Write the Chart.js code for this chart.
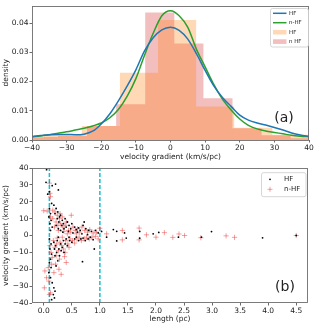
<!DOCTYPE html>
<html><head><meta charset="utf-8">
<script src="https://cdn.jsdelivr.net/npm/chart.js@4.4.0/dist/chart.umd.min.js"></script>
<style>
html,body{margin:0;padding:0;background:#fff;}
#wrap{position:relative;width:315px;height:331px;overflow:hidden;}
#c1box{position:absolute;left:0;top:0;width:315px;height:165px;}
#c2box{position:absolute;left:0;top:160px;width:315px;height:171px;}
</style></head><body>
<div id="wrap"><div id="c1box"><canvas id="c1"></canvas></div><div id="c2box"><canvas id="c2"></canvas></div></div>
<script>
// ---------- panel (a) data ----------
const topXTicks = [-40,-30,-20,-10,0,10,20,30,40];
const topYTicks = [0,0.01,0.02,0.03,0.04];
const hfEdges  = [-47.6,-36.6,-25.6,-14.6,-3.6,7.4,18.4,29.4,40.4];
const hfHeights = [0.0008,0.0018,0.0048,0.0230,0.0410,0.0115,0.0042,0.0018];
const nhfEdges = [-40.9,-32.5,-24.1,-15.7,-7.3,1.1,9.5,17.9,26.3,34.7,43.1];
const nhfHeights = [0.0010,0.0014,0.0048,0.0122,0.0436,0.0330,0.0143,0.0040,0.0016,0.0006];
const kdeX   = [-40,-37.5,-35,-32.5,-30,-27.5,-25,-22.5,-20,-17.5,-15,-12.5,-10,-7.5,-5,-2.5,0,2.5,5,7.5,10,12.5,15,17.5,20,22.5,25,27.5,30,32.5,35,37.5,40];
const kdeHF  = [.0012,.0015,.0018,.0019,.0019,.0018,.0020,.0030,.0055,.0090,.0135,.0185,.0240,.0305,.0350,.0377,.0386,.0375,.0345,.0295,.0238,.0185,.0145,.0115,.0085,.0068,.0058,.0051,.0043,.0034,.0024,.0017,.0012];
const kdeNHF = [.0011,.0014,.0018,.0023,.0028,.0034,.0040,.0048,.0058,.0076,.0105,.0150,.0210,.0290,.0365,.0425,.0442,.0425,.0385,.0310,.0250,.0190,.0140,.0103,.0072,.0050,.0038,.0031,.0026,.0021,.0016,.0013,.0011];

// ---------- panel (b) data ----------
const botXTicks = [0,0.5,1,1.5,2,2.5,3,3.5,4,4.5];
const botYTicks = [-40,-30,-20,-10,0,10,20,30,40];
const cutLengths = [0.1, 1.0];
const hfLength = [0.05,0.04,0.15,0.21,0.26,0.10,0.07,0.14,0.10,0.12,0.09,0.13,0.11,0.15,0.12,0.10,0.13,0.11,0.14,0.12,0.10,0.13,0.09,0.12,0.15,0.18,0.20,0.17,0.19,0.14,
 0.18,0.22,0.20,0.25,0.28,0.24,0.30,0.33,0.27,0.35,0.38,0.32,0.40,0.42,0.45,0.36,0.48,0.50,0.55,0.58,0.62,0.65,0.70,0.72,0.75,0.80,0.85,0.92,0.97,0.22,0.26,0.30,0.34,0.44,0.52,0.60,0.68,0.78,
 0.18,0.21,0.24,0.27,0.23,0.20,0.30,0.33,0.28,0.25,0.22,0.35,0.38,0.40,0.42,0.46,0.50,0.55,0.58,0.62,0.66,0.70,0.74,0.79,0.83,0.88,0.90,0.69,0.31,0.36,0.19,0.26,0.45,
 1.03,1.12,1.24,1.30,1.30,1.44,1.47,1.71,1.71,1.95,2.05,2.40,2.81,2.99,3.90,4.50];
const hfGrad = [39,31.5,29.5,30.5,27,26,24.5,19,16,13,11,9,7,5,3,-2,-5,-8,-11,-14,-16,-19,-22,-25,-28,-31,-33,-35,-37,-38,
 18,16,13,14,11,10,12,9,8,7,10,6,5,8,6,4,4,7,5,3.5,4.5,3,6,8,4,3,2.5,3,1.5,6,4,3,2,2.5,1.5,2,1,0.5,
 -4,-6,-3,-8,-10,-12,-5,-7,-12,-15,-18,-3,-5,-2,-6,-3,-4,-2,-1,-3,-2,-1.5,-3,-2,-1,-2.5,-8,-15.5,-9,-10,-8,-1,-1,
 2.4,-1,3.5,2.5,-3.2,1.5,-1.5,2.4,-1.6,1,1.8,-1,-1,2.3,-1.4,0];
const nhfLength = [0.00,0.02,0.05,0.01,0.10,0.11,0.12,0.09,0.12,0.10,0.08,0.14,0.12,0.06,0.16,0.13,0.11,0.15,0.18,0.27,0.31,0.40,0.37,0.21,
 0.16,0.20,0.24,0.28,0.22,0.30,0.34,0.38,0.33,0.40,0.44,0.49,0.52,0.56,0.60,0.64,0.68,0.73,0.78,0.82,0.88,0.94,1.00,0.26,0.36,0.42,0.48,0.58,0.19,0.29,0.25,
 0.17,0.20,0.23,0.26,0.29,0.32,0.35,0.28,0.22,0.39,0.43,0.47,0.51,0.55,0.59,0.63,0.67,0.72,0.76,0.81,0.86,0.92,0.97,0.24,0.33,0.45,0.38,
 1.12,1.40,1.40,1.70,1.70,1.83,2.00,2.15,2.30,2.41,2.51,2.80,3.25,3.40,4.50];
const nhfGrad = [14.7,-21,-25,-31,31,25,23,-27,-34,-35,-19,-17,11,14.5,10,-10,-6,-13,-22,-20,-23,-16,-12.5,-17,
 15,14,12,10,8,7,5,6,11,8,3,12,5,3,4,2,5,3,2,3.5,1.5,2,4.3,3,2.5,1,2,1,5,13,6,
 -3,-7,-5,-9,-4,-6,-8,-14,-12,-3,-5,-2,-3,-4.5,-2,-1,-3,-2,-1,-2,-1,-0.5,-2,-1.5,-1,-7,-10,
 1,3,-2.6,4.4,-2.6,0.4,-1,1.7,-1.1,0.9,0,-1.3,-0.2,-1.1,0];

// ---------- helpers ----------
Chart.defaults.font.family = "'DejaVu Sans', sans-serif";
Chart.defaults.color = '#222';
const FONT = 7.5;
const fmtInt = v => (v < 0 ? '\u2212' : '') + Math.abs(v);
const stepData = (edges, h) => {
  const d = h.map((y, i) => ({x: edges[i], y}));
  d.push({x: edges[h.length], y: 0});
  return d;
};
const C_BLUE = '#1f77b4', C_GREEN = '#2ca02c';
const C_PEACH = 'rgba(255,127,14,0.3)', C_PINK = 'rgba(214,39,40,0.3)';
const C_RED = 'rgba(232,55,55,0.6)';

const framePlugin = {
  id: 'frame',
  afterDatasetsDraw(chart) {
    const {ctx, chartArea: a} = chart;
    ctx.save();
    ctx.strokeStyle = '#6e6e6e';
    ctx.lineWidth = 0.9;
    ctx.strokeRect(Math.round(a.left) + 0.5, Math.round(a.top) + 0.5,
                   Math.round(a.right - a.left) - 1, Math.round(a.bottom - a.top) - 1);
    ctx.restore();
  }
};

function axisCommon(extra) {
  return Object.assign({
    type: 'linear',
    border: {display: false},
    grid: {drawOnChartArea: false, drawTicks: true, tickLength: 2.5, color: '#444', lineWidth: 0.8},
  }, extra);
}

// ---------- panel (a) ----------
const legendA = {
  id: 'legendA',
  afterDraw(chart) {
    const ctx = chart.ctx;
    ctx.save();
    ctx.fillStyle = 'rgba(255,255,255,0.85)';
    ctx.strokeStyle = '#cccccc';
    ctx.lineWidth = 0.8;
    ctx.beginPath();
    ctx.roundRect(270.5, 8.5, 38, 38.5, 2);
    ctx.fill(); ctx.stroke();
    ctx.font = "5.5px 'DejaVu Sans'";
    ctx.textBaseline = 'middle';
    ctx.fillStyle = '#222';
    const rows = [
      {y: 13.3, type: 'line', c: C_BLUE, t: 'HF'},
      {y: 22.7, type: 'line', c: C_GREEN, t: 'n-HF'},
      {y: 32.2, type: 'box', c: C_PEACH, t: 'HF'},
      {y: 41.6, type: 'box', c: C_PINK, t: 'n HF'},
    ];
    rows.forEach(r => {
      if (r.type === 'line') {
        ctx.strokeStyle = r.c; ctx.lineWidth = 1.5;
        ctx.beginPath(); ctx.moveTo(273, r.y); ctx.lineTo(286.5, r.y); ctx.stroke();
      } else {
        ctx.fillStyle = r.c; ctx.fillRect(273, r.y - 2.3, 13.5, 4.6);
      }
      ctx.fillStyle = '#222';
      ctx.fillText(r.t, 289, r.y);
    });
    ctx.font = "14px 'DejaVu Sans'";
    ctx.textAlign = 'center';
    ctx.fillText('(a)', 284, 118.5);
    ctx.restore();
  }
};

new Chart(document.getElementById('c1'), {
  type: 'line',
  data: {
    datasets: [
      {label: 'HF', data: kdeX.map((x, i) => ({x, y: kdeHF[i]})), borderColor: C_BLUE, borderWidth: 1.5, pointRadius: 0, cubicInterpolationMode: 'monotone', fill: false},
      {label: 'n-HF', data: kdeX.map((x, i) => ({x, y: kdeNHF[i]})), borderColor: C_GREEN, borderWidth: 1.5, pointRadius: 0, cubicInterpolationMode: 'monotone', fill: false},
      {label: 'HF hist', data: stepData(hfEdges, hfHeights), stepped: true, borderWidth: 0, borderColor: 'rgba(0,0,0,0)', backgroundColor: C_PEACH, fill: 'origin', pointRadius: 0},
      {label: 'n HF hist', data: stepData(nhfEdges, nhfHeights), stepped: true, borderWidth: 0, borderColor: 'rgba(0,0,0,0)', backgroundColor: C_PINK, fill: 'origin', pointRadius: 0},
    ]
  },
  options: {
    animation: false, responsive: true, maintainAspectRatio: false,
    layout: {padding: {top: 5, right: 6, left: 0, bottom: 0}},
    plugins: {legend: {display: false}, tooltip: {enabled: false}},
    scales: {
      x: axisCommon({
        min: -40, max: 40,
        afterBuildTicks: ax => { ax.ticks = topXTicks.map(v => ({value: v})); },
        ticks: {callback: v => fmtInt(v), font: {size: FONT}, padding: 1, maxRotation: 0, autoSkip: false},
        title: {display: true, text: 'velocity gradient (km/s/pc)', font: {size: FONT}, padding: {top: 0, bottom: 3}},
        afterFit: s => { s.height = 25; }
      }),
      y: axisCommon({
        min: 0, max: 0.046,
        afterBuildTicks: ax => { ax.ticks = topYTicks.map(v => ({value: v})); },
        ticks: {callback: v => v.toFixed(2), font: {size: FONT}, padding: 1},
        title: {display: true, text: 'density', font: {size: FONT}, padding: {top: 2, bottom: 0}},
        afterFit: s => { s.width = 32; }
      })
    }
  },
  plugins: [framePlugin, legendA]
});

// ---------- panel (b) ----------
const legendB = {
  id: 'legendB',
  afterDraw(chart) {
    const ctx = chart.ctx;
    ctx.save();
    ctx.fillStyle = 'rgba(255,255,255,0.85)';
    ctx.strokeStyle = '#cccccc';
    ctx.lineWidth = 0.8;
    ctx.beginPath();
    ctx.roundRect(261.5, 12.7, 44.5, 24, 2);
    ctx.fill(); ctx.stroke();
    ctx.fillStyle = '#000';
    ctx.beginPath(); ctx.arc(270, 19.3, 0.9, 0, Math.PI * 2); ctx.fill();
    ctx.strokeStyle = C_RED; ctx.lineWidth = 0.8;
    ctx.beginPath(); ctx.moveTo(267.5, 29.3); ctx.lineTo(272.5, 29.3); ctx.moveTo(270, 26.8); ctx.lineTo(270, 31.8); ctx.stroke();
    ctx.font = "7px 'DejaVu Sans'";
    ctx.textBaseline = 'middle';
    ctx.fillStyle = '#222';
    ctx.fillText('HF', 284, 19.5);
    ctx.fillText('n-HF', 284, 29.5);
    ctx.font = "14px 'DejaVu Sans'";
    ctx.textAlign = 'center';
    ctx.fillText('(b)', 285, 127);
    ctx.restore();
  }
};

new Chart(document.getElementById('c2'), {
  type: 'scatter',
  data: {
    datasets: [
      {label: 'HF', data: hfLength.map((x, i) => ({x, y: hfGrad[i]})), pointStyle: 'circle', pointRadius: 0.9, backgroundColor: '#000', borderWidth: 0},
      {label: 'n-HF', data: nhfLength.map((x, i) => ({x, y: nhfGrad[i]})), pointStyle: 'cross', pointRadius: 2.6, borderColor: C_RED, borderWidth: 0.8, backgroundColor: C_RED},
      ...cutLengths.map(L => ({type: 'line', data: [{x: L, y: -40}, {x: L, y: 40}], borderColor: '#17becf', borderWidth: 1.5, borderDash: [4, 2], pointRadius: 0, fill: false})),
    ]
  },
  options: {
    animation: false, responsive: true, maintainAspectRatio: false,
    layout: {padding: {top: 8, right: 7, left: 0, bottom: 0}},
    plugins: {legend: {display: false}, tooltip: {enabled: false}},
    scales: {
      x: axisCommon({
        min: -0.21, max: 4.71,
        afterBuildTicks: ax => { ax.ticks = botXTicks.map(v => ({value: v})); },
        ticks: {callback: v => v.toFixed(1), font: {size: FONT}, padding: 1, maxRotation: 0, autoSkip: false},
        title: {display: true, text: 'length (pc)', font: {size: FONT}, padding: {top: 0, bottom: 7}},
        afterFit: s => { s.height = 28; }
      }),
      y: axisCommon({
        min: -40, max: 40,
        afterBuildTicks: ax => { ax.ticks = botYTicks.map(v => ({value: v})); },
        ticks: {callback: v => fmtInt(v), font: {size: FONT}, padding: 1},
        title: {display: true, text: 'velocity gradient (km/s/pc)', font: {size: FONT}, padding: {top: 2, bottom: 0}},
        afterFit: s => { s.width = 32; }
      })
    }
  },
  plugins: [framePlugin, legendB]
});
</script>
</body></html>
